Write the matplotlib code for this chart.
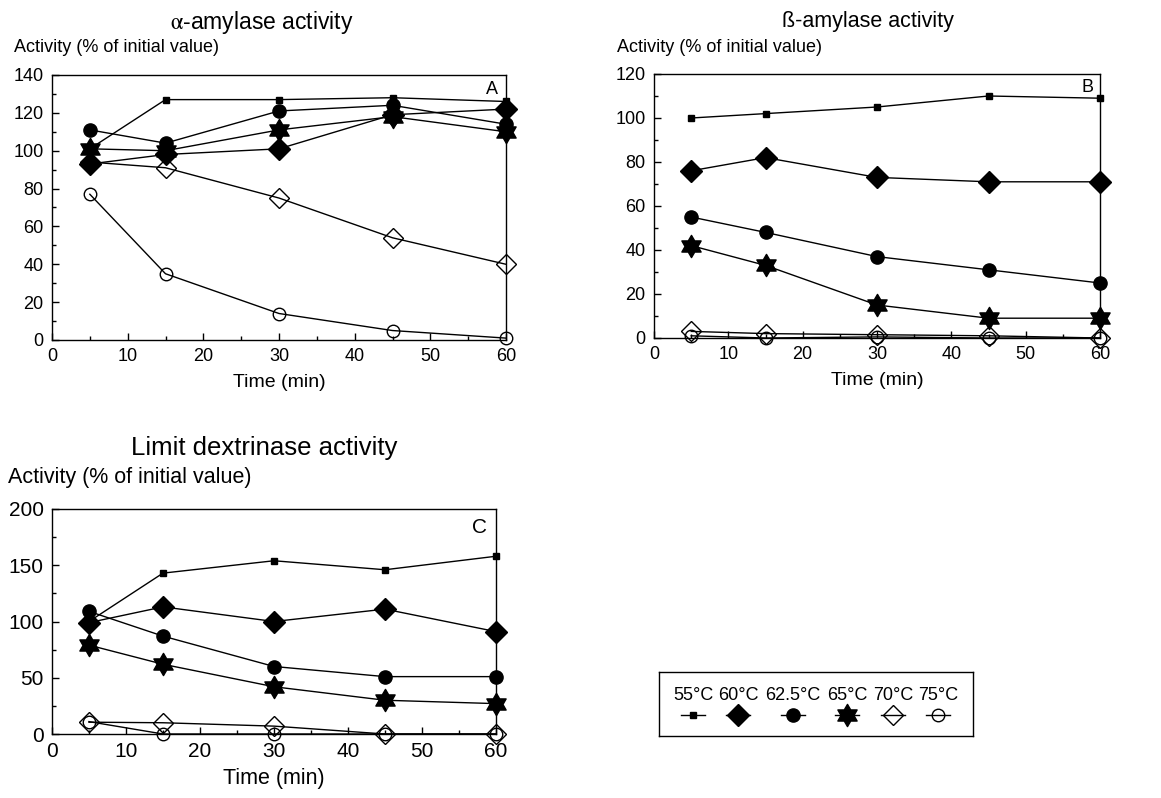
import matplotlib
matplotlib.use("Agg")
import matplotlib.pyplot as plt
from matplotlib.path import Path
from matplotlib.ticker import MultipleLocator

plt.rcParams["font.family"] = ["Liberation Sans", "DejaVu Sans"]
plt.rcParams["mathtext.fontset"] = "stix"

# data
time = [5, 15, 30, 45, 60]
temps = ["55°C", "60°C", "62.5°C", "65°C", "70°C", "75°C"]

alpha_55 = [101, 127, 127, 128, 126]
alpha_60 = [93, 98, 101, 119, 122]
alpha_625 = [111, 104, 121, 124, 114]
alpha_65 = [101, 100, 111, 118, 110]
alpha_70 = [94, 91, 75, 54, 40]
alpha_75 = [77, 35, 14, 5, 1]

beta_55 = [100, 102, 105, 110, 109]
beta_60 = [76, 82, 73, 71, 71]
beta_625 = [55, 48, 37, 31, 25]
beta_65 = [42, 33, 15, 9, 9]
beta_70 = [3, 2, 1.5, 1, 0]
beta_75 = [1, 0, 0.5, 0, 0]

ld_55 = [100, 143, 154, 146, 158]
ld_60 = [99, 113, 100, 111, 91]
ld_625 = [109, 87, 60, 51, 51]
ld_65 = [79, 62, 42, 30, 27]
ld_70 = [10.5, 10, 7, 0, 0]
ld_75 = [11, 0, 0, 0, 0]

W, H = 1161, 798
star6 = Path.unit_regular_star(6, 0.58)
styles = [
    dict(marker="s", ms=4.5, mfc="black"),
    dict(marker="D", ms=11, mfc="black"),
    dict(marker="o", ms=9.5, mfc="black"),
    dict(marker=star6, ms=16, mfc="black"),
    dict(marker="D", ms=10, mfc="none"),
    dict(marker="o", ms=9, mfc="none"),
]

fig = plt.figure(figsize=(W / 100, H / 100), dpi=100)


def px_axes(left, top, right, bottom):
    return fig.add_axes([left / W, 1 - bottom / H, (right - left) / W, (bottom - top) / H])


def setup(ax, ymax, ymaj, fs, letter, lx, ly):
    ax.set_xlim(0, 60)
    ax.set_ylim(0, ymax)
    ax.xaxis.set_major_locator(MultipleLocator(10))
    ax.xaxis.set_minor_locator(MultipleLocator(5))
    ax.yaxis.set_major_locator(MultipleLocator(ymaj))
    ax.yaxis.set_minor_locator(MultipleLocator(ymaj / 2))
    ax.tick_params(which="both", direction="in", top=False, right=False,
                   labelsize=fs, pad=6, width=1)
    ax.tick_params(which="major", length=5)
    ax.tick_params(which="minor", length=3)
    for s in ax.spines.values():
        s.set_linewidth(1)
    ax.text(lx, ly, letter, transform=ax.transAxes, ha="right", va="center", fontsize=fs)


def draw(ax, series):
    for ys, st in zip(series, styles):
        ax.plot(time, ys, color="black", lw=1, mec="black", mew=1, clip_on=False, **st)


axA = px_axes(52, 75, 506, 340)
setup(axA, 140, 20, 13, "A", 0.982, 0.947)
draw(axA, [alpha_55, alpha_60, alpha_625, alpha_65, alpha_70, alpha_75])
axA.set_xlabel("Time (min)", fontsize=14, labelpad=6)

axB = px_axes(654, 74, 1100, 338)
setup(axB, 120, 20, 13, "B", 0.985, 0.95)
draw(axB, [beta_55, beta_60, beta_625, beta_65, beta_70, beta_75])
axB.set_xlabel("Time (min)", fontsize=14, labelpad=6)

axC = px_axes(52, 509, 496, 734)
setup(axC, 200, 50, 15, "C", 0.98, 0.916)
draw(axC, [ld_55, ld_60, ld_625, ld_65, ld_70, ld_75])
axC.set_xlabel("Time (min)", fontsize=15.5, labelpad=5)

# titles and y labels
fig.text(262 / W, 1 - 22 / H, r"$\mathrm{\alpha}$-amylase activity", ha="center", va="center", fontsize=16.5)
fig.text(14 / W, 1 - 47 / H, "Activity (% of initial value)", ha="left", va="center", fontsize=13)
fig.text(868 / W, 1 - 22 / H, "ß-amylase activity", ha="center", va="center", fontsize=15.5)
fig.text(617 / W, 1 - 47 / H, "Activity (% of initial value)", ha="left", va="center", fontsize=13)
fig.text(264 / W, 1 - 448 / H, "Limit dextrinase activity", ha="center", va="center", fontsize=18.5)
fig.text(8 / W, 1 - 477 / H, "Activity (% of initial value)", ha="left", va="center", fontsize=15.5)

# legend box: labels above, line+marker below
axL = px_axes(659, 672, 973, 736)
axL.set_xlim(659, 973)
axL.set_ylim(736, 672)
axL.set_xticks([])
axL.set_yticks([])
for s in axL.spines.values():
    s.set_linewidth(1)
leg_x = [693, 738, 793, 847, 893, 938]
for x, lab, st in zip(leg_x, temps, styles):
    axL.text(x, 695, lab, ha="center", va="center", fontsize=13)
    axL.plot([x - 12, x + 12], [715, 715], color="black", lw=1)
    axL.plot([x], [715], color="black", mec="black", mew=1, ls="none", **st)

fig.savefig("out.png", dpi=100)
